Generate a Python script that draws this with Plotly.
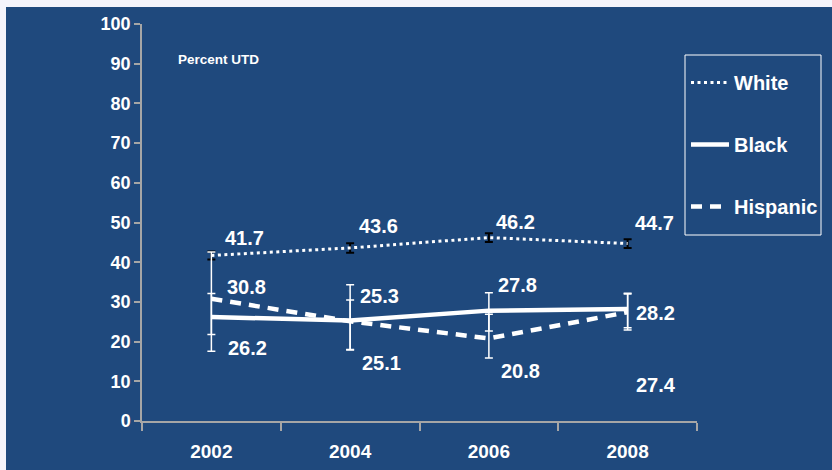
import plotly.graph_objects as go

years = ["2002", "2004", "2006", "2008"]
white = [41.7, 43.6, 46.2, 44.7]
black = [26.2, 25.3, 27.8, 28.2]
hispanic = [30.8, 25.1, 20.8, 27.4]

white_err_plus = [1.0, 1.2, 1.1, 1.1]
white_err_minus = [1.0, 1.2, 1.1, 1.1]
black_err_plus = [5.9, 5.2, 4.5, 4.0]
black_err_minus = [4.4, 7.3, 5.1, 4.7]
hisp_err_plus = [11.8, 9.2, 6.1, 4.6]
hisp_err_minus = [13.2, 7.2, 4.9, 4.5]

BLUE = "#1F497D"
FONT = "Liberation Sans, Arial, sans-serif"

def px_x(p):
    return (p - 142) / 555

def px_y(p):
    return (421 - p) / 397

fig = go.Figure()

fig.add_trace(go.Scatter(
    x=years, y=white, name="White", mode="lines", legendgroup="w",
    line=dict(color="white", width=3, dash="3px,3.5px"),
    error_y=dict(type="data", array=white_err_plus, arrayminus=white_err_minus,
                 color="black", thickness=2, width=4),
))
fig.add_trace(go.Scatter(
    x=years, y=black, name="Black", mode="lines", legendgroup="b",
    line=dict(color="white", width=4.5),
    error_y=dict(type="data", array=black_err_plus, arrayminus=black_err_minus,
                 color="white", thickness=1.5, width=4),
))
fig.add_trace(go.Scatter(
    x=years, y=hispanic, name="Hispanic", mode="lines", legendgroup="h",
    line=dict(color="white", width=4.5, dash="11px,8px"),
    error_y=dict(type="data", array=hisp_err_plus, arrayminus=hisp_err_minus,
                 color="white", thickness=1.5, width=4),
))

# data labels (pixel offsets from each point)
label_font = dict(family=FONT, size=20, color="white", weight="bold")
white_shift = [(33, 17), (28, 22), (27, 16), (27, 21)]
black_shift = [(36, -31), (29, 25), (29, 26), (28, -4)]
hisp_shift = [(35, 12), (31, -42), (32, -33), (28, -73)]
for vals, shifts in ((white, white_shift), (black, black_shift), (hispanic, hisp_shift)):
    for i, (v, (dx, dy)) in enumerate(zip(vals, shifts)):
        fig.add_annotation(x=i, y=v, text=f"{v:.1f}", showarrow=False,
                           xshift=dx, yshift=dy, font=label_font)

fig.add_annotation(x=px_x(176), y=px_y(60), xref="paper", yref="paper",
                   xanchor="left", yanchor="middle",
                   text="Percent UTD", showarrow=False,
                   font=dict(family=FONT, size=13.5, color="white", weight="bold"))

# blue panel
fig.add_shape(type="rect", xref="paper", yref="paper",
              x0=px_x(6), x1=px_x(840), y0=px_y(480), y1=px_y(7),
              fillcolor=BLUE, line=dict(width=0), layer="below")
# legend frame
fig.add_shape(type="rect", xref="paper", yref="paper",
              x0=px_x(685), x1=px_x(821), y0=px_y(235), y1=px_y(55),
              fillcolor="rgba(0,0,0,0)", line=dict(color="white", width=1))

fig.update_layout(
    width=832, height=470,
    margin=dict(l=142, r=135, t=24, b=49, autoexpand=False),
    paper_bgcolor="#F4F4FB",
    plot_bgcolor="rgba(0,0,0,0)",
    showlegend=True,
    legend=dict(
        x=px_x(686), y=px_y(63), xanchor="left", yanchor="top",
        bgcolor="rgba(0,0,0,0)", borderwidth=0, itemwidth=38,
        font=dict(family=FONT, size=20, color="white", weight="bold"),
        traceorder="grouped", tracegroupgap=33,
    ),
    xaxis=dict(
        type="category", range=[-0.5, 3.5], showgrid=False, showline=True,
        linecolor="#A6A6A6", linewidth=1.5, ticks="outside", tickson="boundaries",
        ticklen=8, tickcolor="#A6A6A6", tickwidth=1.5, ticklabelstandoff=12,
        automargin=False,
        tickfont=dict(family=FONT, size=19, color="white", weight="bold"),
    ),
    yaxis=dict(
        range=[0, 100], tickvals=list(range(0, 101, 10)), showgrid=False,
        zeroline=False, showline=True, linecolor="#A6A6A6", linewidth=1.5,
        ticks="outside", ticklen=6, tickcolor="#A6A6A6", tickwidth=1.5,
        automargin=False,
        tickfont=dict(family=FONT, size=18, color="white", weight="bold"),
    ),
)

fig.write_html("out.html", config={"displayModeBar": False},
               post_script="document.body.style.margin='0';")
